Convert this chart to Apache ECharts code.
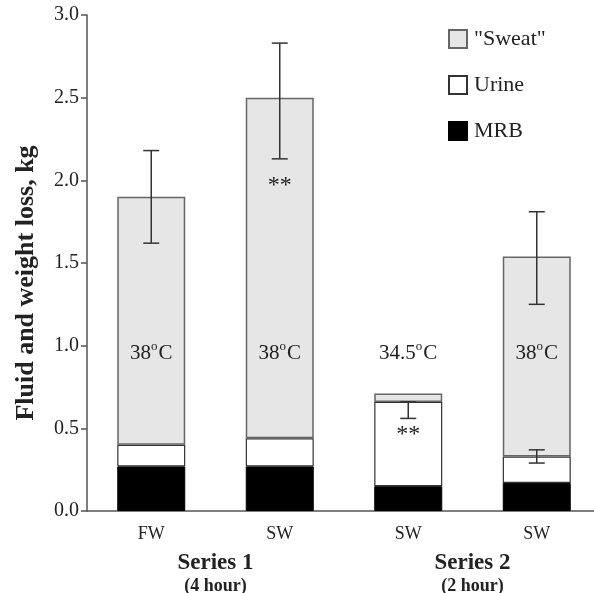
<!DOCTYPE html>
<html>
<head>
<meta charset="utf-8">
<script src="https://cdn.jsdelivr.net/npm/echarts@6/dist/echarts.min.js"></script>
<style>
html, body { margin: 0; padding: 0; background: #fff; }
#chart { width: 594px; height: 593px; }
</style>
</head>
<body>
<div id="chart"></div>
<script>
// data (kg)
const categories = ['FW', 'SW', 'SW', 'SW'];
const groups = ['Series 1', 'Series 2'];
const groupSubs = ['(4 hour)', '(2 hour)'];
const mrb = [0.27, 0.27, 0.15, 0.17];
const urine = [0.13, 0.17, 0.51, 0.16];
const sweat = [1.50, 2.06, 0.05, 1.21];
// [category index, low, high]
const errBars = [[0, 1.62, 2.18], [1, 2.13, 2.83], [2, 0.56, 0.66], [3, 1.25, 1.81], [3, 0.29, 0.37]];
const temps = ['38', '38', '34.5', '38'];
const tempY = 0.96;
// [category index, y] for significance stars
const stars = [[1, 1.97], [2, 0.46]];

const FONT = "'Liberation Serif', 'Times New Roman', serif";
const INK = '#222';

const chart = echarts.init(document.getElementById('chart'));

chart.setOption({
  animation: false,
  textStyle: { fontFamily: FONT, color: INK },
  legend: {
    orient: 'vertical',
    left: 443,
    top: 23,
    itemWidth: 18,
    itemHeight: 18,
    itemGap: 24,
    icon: 'rect',
    data: ['"Sweat"', 'Urine', 'MRB'],
    textStyle: { fontFamily: FONT, fontSize: 22, color: INK, padding: [0, 0, 0, 2] },
  },
  grid: { left: 87, width: 514, top: 15, bottom: 82, outerBoundsMode: 'none' },
  xAxis: [
    {
      type: 'category',
      data: categories,
      axisTick: { show: false },
      axisLine: { lineStyle: { color: '#555', width: 1.5 } },
      axisLabel: { fontFamily: FONT, fontSize: 18, color: INK, margin: 14 },
    },
    {
      type: 'category',
      data: groups,
      position: 'bottom',
      offset: 40,
      axisTick: { show: false },
      axisLine: { show: false },
      axisLabel: {
        margin: 0,
        formatter: (v, i) => '{a|' + v + '}\n{b|' + groupSubs[i] + '}',
        rich: {
          a: { fontFamily: FONT, fontSize: 23, fontWeight: 'bold', color: INK, lineHeight: 24 },
          b: { fontFamily: FONT, fontSize: 18, fontWeight: 'bold', color: INK, lineHeight: 22 },
        },
      },
    },
  ],
  yAxis: {
    type: 'value',
    min: 0,
    max: 3,
    interval: 0.5,
    name: 'Fluid and weight loss, kg',
    nameLocation: 'middle',
    nameGap: 48,
    nameTextStyle: { fontFamily: FONT, fontSize: 26, fontWeight: 'bold', color: INK, padding: [0, 40, 0, 0] },
    axisLine: { show: true, lineStyle: { color: '#555', width: 1.5 } },
    axisTick: { show: true, length: 6, lineStyle: { color: '#555', width: 1.5 } },
    axisLabel: { fontFamily: FONT, fontSize: 20, color: INK, margin: 8, formatter: v => v.toFixed(1) },
    splitLine: { show: false },
  },
  series: [
    {
      name: 'MRB',
      type: 'bar',
      stack: 'loss',
      barWidth: 68,
      data: mrb,
      itemStyle: { color: '#000', borderColor: '#000', borderWidth: 1 },
    },
    {
      name: 'Urine',
      type: 'bar',
      stack: 'loss',
      data: urine,
      itemStyle: { color: '#fff', borderColor: '#333', borderWidth: 1.2 },
    },
    {
      name: '"Sweat"',
      type: 'bar',
      stack: 'loss',
      data: sweat,
      itemStyle: { color: '#e6e6e6', borderColor: '#666', borderWidth: 1.5 },
    },
    {
      type: 'custom',
      z: 10,
      data: errBars,
      renderItem: (params, api) => {
        const lo = api.coord([api.value(0), api.value(1)]);
        const hi = api.coord([api.value(0), api.value(2)]);
        const cap = 8;
        const style = { stroke: '#333', lineWidth: 1.5 };
        return {
          type: 'group',
          children: [
            { type: 'line', shape: { x1: lo[0], y1: lo[1], x2: hi[0], y2: hi[1] }, style },
            { type: 'line', shape: { x1: lo[0] - cap, y1: lo[1], x2: lo[0] + cap, y2: lo[1] }, style },
            { type: 'line', shape: { x1: hi[0] - cap, y1: hi[1], x2: hi[0] + cap, y2: hi[1] }, style },
          ],
        };
      },
    },
    {
      type: 'scatter',
      z: 11,
      symbolSize: 0,
      silent: true,
      itemStyle: { opacity: 1 },
      data: temps.map((t, i) => [i, tempY, t]),
      label: {
        show: true,
        position: 'inside',
        formatter: p => '{n|' + p.data[2] + '}{s|o}{n|C}',
        rich: {
          n: { fontFamily: FONT, fontSize: 21, color: INK, verticalAlign: 'bottom', lineHeight: 24 },
          s: { fontFamily: FONT, fontSize: 13, color: INK, verticalAlign: 'top', lineHeight: 12, padding: [0, 1, 0, 0] },
        },
      },
    },
    {
      type: 'scatter',
      z: 11,
      symbolSize: 0,
      silent: true,
      itemStyle: { opacity: 1 },
      data: stars,
      label: {
        show: true,
        position: 'inside',
        formatter: '**',
        fontFamily: FONT,
        fontSize: 24,
        color: INK,
        padding: [8, 0, 0, 0],
      },
    },
  ],
});
</script>
</body>
</html>
